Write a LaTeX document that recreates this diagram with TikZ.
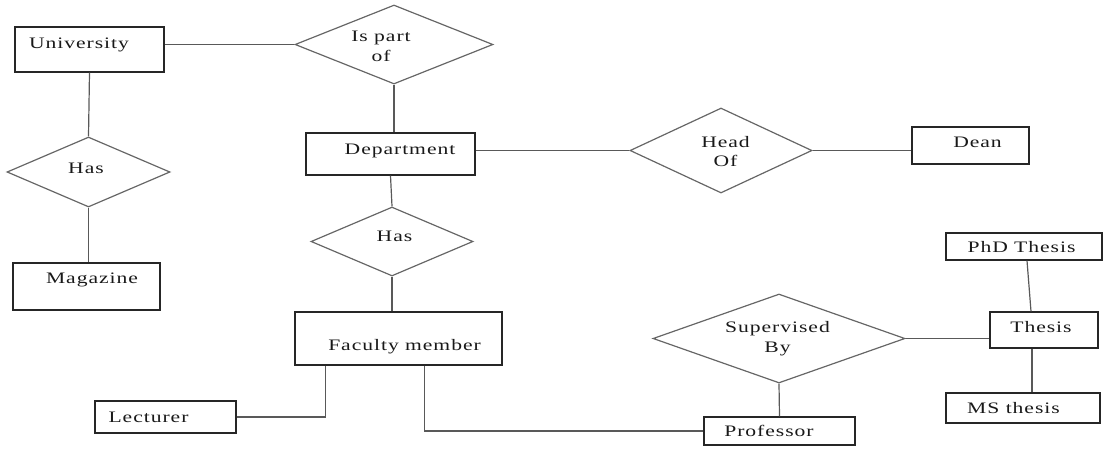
\documentclass[tikz,border=0pt]{standalone}
\usepackage{fontspec}
\setmainfont{Liberation Serif}[FakeStretch=1.35, LetterSpace=6]
\usetikzlibrary{shapes.geometric}

\begin{document}
\begin{tikzpicture}[x=1pt, y=-1pt,
  entity/.style={draw=black!85, line width=1.2pt},
  relation/.style={diamond, draw=black!60, line width=1.2pt, inner sep=0pt},
  txt/.style={font=\fontsize{16}{19.5}\selectfont, align=center, text=black!90},
  link/.style={draw=black!65, line width=1.2pt}]

  \useasboundingbox (0,0) rectangle (1119,448);

  \node[entity, minimum width=149pt, minimum height=45pt,
    label={[txt, xshift=-10.5pt, yshift=4.5pt]center:University}] (uni) at (89.5,49.5) {};
  \node[entity, minimum width=147pt, minimum height=47pt,
    label={[txt, xshift=5.5pt, yshift=6.5pt]center:Magazine}] (mag) at (86.5,286.5) {};
  \node[entity, minimum width=169pt, minimum height=42pt,
    label={[txt, xshift=9.5pt, yshift=3pt]center:Department}] (dept) at (390.5,154) {};
  \node[entity, minimum width=207pt, minimum height=53pt,
    label={[txt, xshift=6pt, yshift=-8.5pt]center:Faculty member}] (fac) at (398.5,338.5) {};
  \node[entity, minimum width=141pt, minimum height=32pt,
    label={[txt, xshift=-17pt]center:Lecturer}] (lect) at (165.5,417) {};
  \node[entity, minimum width=117pt, minimum height=37pt,
    label={[txt, xshift=7pt, yshift=3pt]center:Dean}] (dean) at (970.5,145.5) {};
  \node[entity, minimum width=156pt, minimum height=27pt,
    label={[txt, xshift=-2.5pt, yshift=-1pt]center:PhD Thesis}] (phd) at (1024,246.5) {};
  \node[entity, minimum width=108pt, minimum height=36pt,
    label={[txt, xshift=-3pt, yshift=2.5pt]center:Thesis}] (thesis) at (1044,330) {};
  \node[entity, minimum width=154pt, minimum height=30pt,
    label={[txt, xshift=-9.5pt]center:MS thesis}] (ms) at (1023,408) {};
  \node[entity, minimum width=151pt, minimum height=28pt,
    label={[txt, xshift=-10.5pt]center:Professor}] (prof) at (779.5,431) {};

  \node[relation, minimum width=198pt, minimum height=79pt,
    label={[txt, xshift=-13pt, yshift=-2pt]center:Is part\\of}] (partof) at (394,44.5) {};
  \node[relation, minimum width=163pt, minimum height=70pt,
    label={[txt, xshift=-2.5pt, yshift=3.5pt]center:Has}] (has) at (88.5,172) {};
  \node[relation, minimum width=162pt, minimum height=69pt,
    label={[txt, xshift=2.5pt, yshift=5pt]center:Has}] (hasfac) at (392,241.5) {};
  \node[relation, minimum width=182pt, minimum height=85pt,
    label={[txt, xshift=4.5pt, yshift=-1pt]center:Head\\Of}] (headof) at (721,150.5) {};
  \node[relation, minimum width=252pt, minimum height=89pt,
    label={[txt, xshift=-1.5pt]center:Supervised\\By}] (supby) at (779,338.5) {};

  \draw[link] (uni.east |- partof.west) -- (partof.west);
  \draw[link] (partof.south) -- (partof.south |- dept.north);
  \draw[link] (uni.south) -- (has.north);
  \draw[link] (has.south) -- (has.south |- mag.north);
  \draw[link] (dept.south) -- (hasfac.north);
  \draw[link] (hasfac.south) -- (hasfac.south |- fac.north);
  \draw[link] (dept.east |- headof.west) -- (headof.west);
  \draw[link] (headof.east) -- (headof.east -| dean.west);
  \draw[link] (supby.east) -- (supby.east -| thesis.west);
  \draw[link] (supby.south) -- (prof.north);
  \draw[link] ([xshift=3pt]phd.south) -- ([xshift=-13pt]thesis.north);
  \draw[link] ([xshift=-12pt]thesis.south) -- ([xshift=-12pt]thesis.south |- ms.north);
  \draw[link] (lect.east) -| ([xshift=31pt]fac.south west);
  \draw[link] ([xshift=130pt]fac.south west) |- (prof.west);

\end{tikzpicture}
\end{document}
